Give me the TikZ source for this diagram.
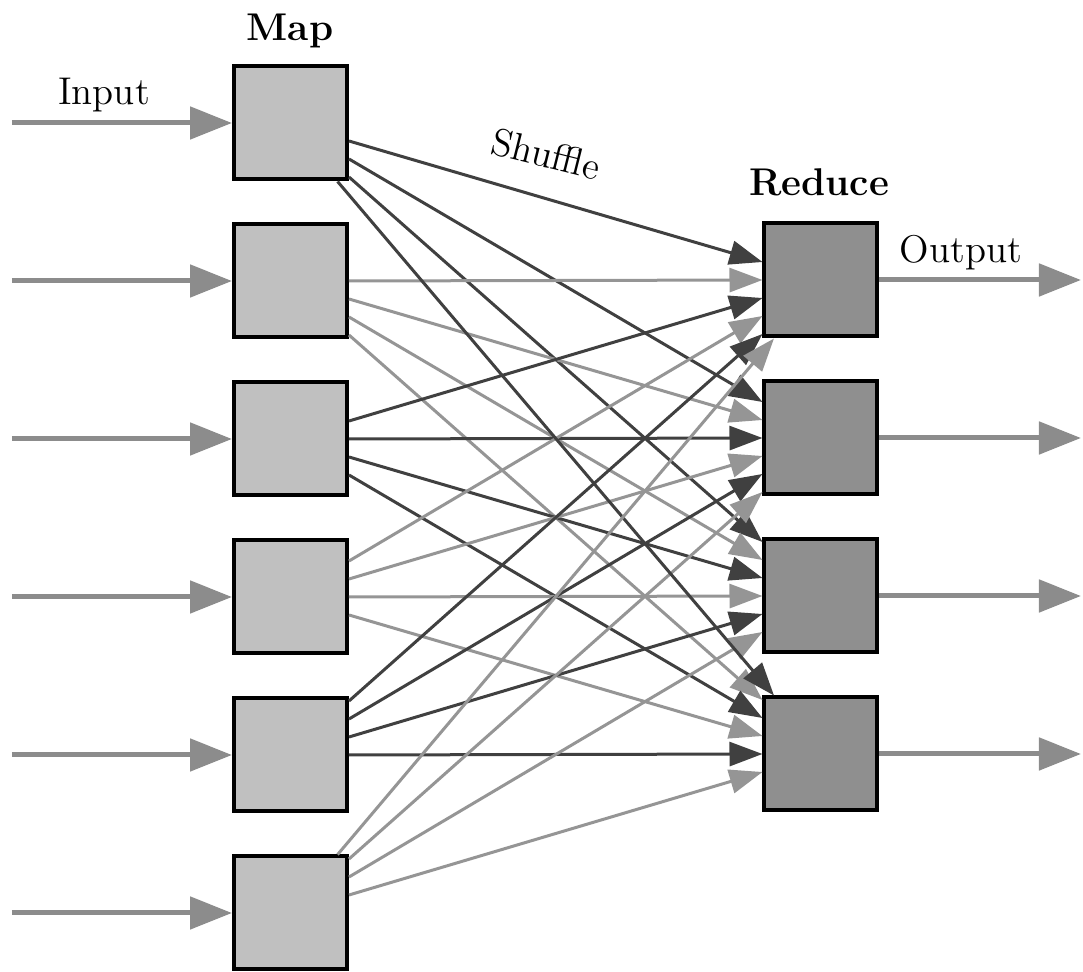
\documentclass[tikz,border=0pt]{standalone}
\usetikzlibrary{arrows.meta,calc}

\definecolor{mapgray}{HTML}{C0C0C0}
\definecolor{redgray}{HTML}{8F8F8F}
\definecolor{darkline}{HTML}{404040}
\definecolor{lightline}{HTML}{959595}
\definecolor{iogray}{HTML}{8C8C8C}

\tikzset{
  mapbox/.style={draw,line width=0.4mm,fill=mapgray,minimum size=11.3mm,inner sep=0pt},
  redbox/.style={mapbox,fill=redgray},
  ioarrow/.style={draw=iogray,line width=0.5mm,-{Triangle[length=4.2mm,width=3.2mm]}},
  dark/.style={draw=darkline,line width=0.3mm,-{Triangle[length=3.3mm,width=2.4mm]}},
  light/.style={dark,draw=lightline},
  lbl/.style={font=\fontsize{11}{13}\selectfont},
  boldlbl/.style={font=\fontsize{11}{13}\selectfont\bfseries}
}

\begin{document}
\begin{tikzpicture}[x=0.1mm,y=-0.1mm]
    \useasboundingbox (0,0) rectangle (1083,972);

    % map and reduce boxes
    \foreach \i in {1,...,6}
      \node[mapbox] (m\i) at (290.5,{123+158*(\i-1)}) {};
    \foreach \j in {1,...,4}
      \node[redbox] (r\j) at (821,{280+158*(\j-1)}) {};

    % input and output
    \foreach \i in {1,...,6} {
      \coordinate (in\i) at (12,{123+158*(\i-1)});
      \draw[ioarrow] (in\i) -- (m\i.west);
    }
    \foreach \j in {1,...,4} {
      \coordinate (out\j) at (1081,{280+158*(\j-1)});
      \draw[ioarrow] (r\j.east) -- (out\j);
    }

    % shuffle
    \foreach \i/\col in {1/dark,2/light,3/dark,4/light,5/dark,6/light}
      \foreach \j in {1,...,4} {
        \pgfmathtruncatemacro\off{18*(\j+1-\i)}
        \ifnum\off<60 \ifnum\off>-60
          \draw[\col] ($(m\i.east)+(0,\off)$) -- ($(r\j.west)+(0,-\off)$);
        \fi\fi
      }
    \coordinate (a1) at ($(m1.east)+(0,72)$);
    \coordinate (a2) at ($(r4.west)+(0,-72)$);
    \draw[dark] (intersection of m1.south west--m1.south east and a1--a2)
      -- (intersection of r4.north west--r4.north east and a1--a2);
    \coordinate (b1) at ($(m6.east)+(0,-72)$);
    \coordinate (b2) at ($(r1.west)+(0,72)$);
    \draw[light] (intersection of m6.north west--m6.north east and b1--b2)
      -- (intersection of r1.south west--r1.south east and b1--b2);

    % labels
    \node[boldlbl] (maplbl) at (290,31) {Map};
    \node[lbl] (inlbl) at (104,95) {Input};
    \node[boldlbl] (redlbl) at (819,182) {Reduce};
    \node[lbl] (outlbl) at (961,253) {Output};
    \node[lbl,rotate=-14] (shuflbl) at (546,154) {Shuf{}f{}le};
\end{tikzpicture}
\end{document}
